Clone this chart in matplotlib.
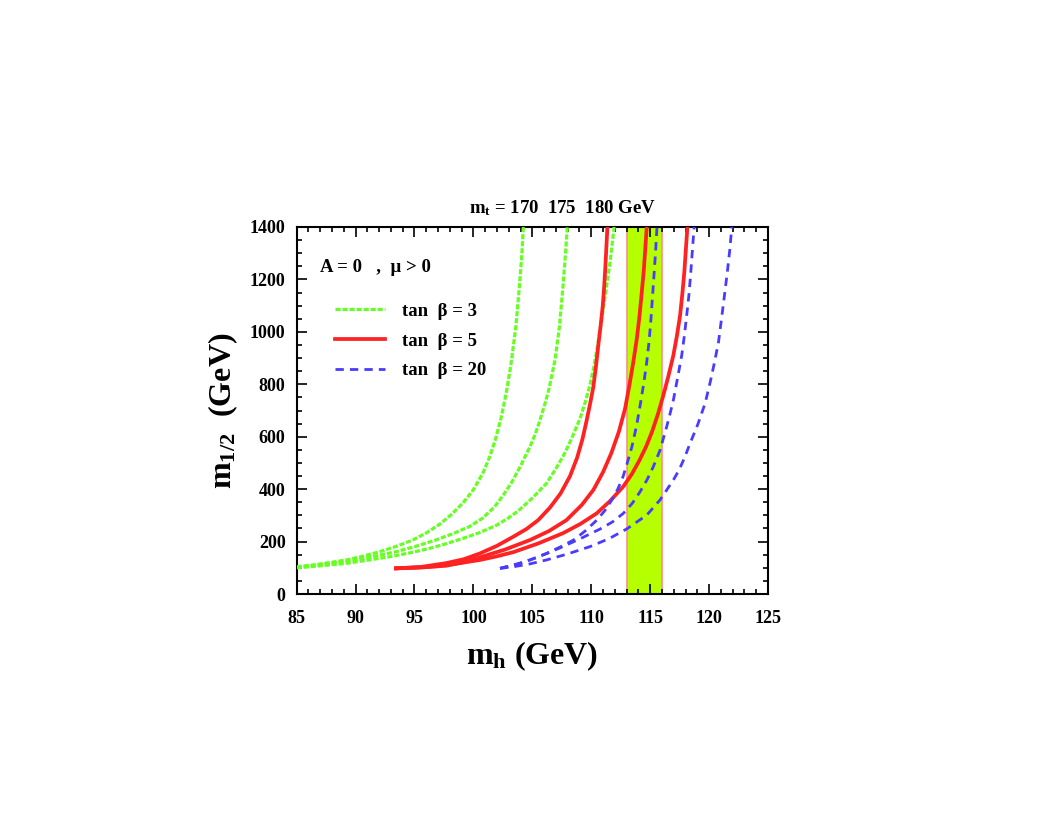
import numpy as np
import matplotlib.pyplot as plt
from matplotlib.ticker import MultipleLocator

plt.rcParams['font.family'] = ['Liberation Serif', 'DejaVu Serif']
plt.rcParams['font.weight'] = 'bold'
plt.rcParams['mathtext.fontset'] = 'custom'
plt.rcParams['mathtext.rm'] = 'Liberation Serif:bold'
plt.rcParams['mathtext.it'] = 'Liberation Serif:bold'
plt.rcParams['mathtext.bf'] = 'Liberation Serif:bold'

# tan beta = 3 (mt = 170, 175, 180 GeV)
g1_mh = [85.0, 86.4, 87.8, 89.2, 90.6, 92.0, 93.4, 94.85, 96.0, 97.1, 98.1, 99.09, 100.0, 100.79,
         101.35, 101.85, 102.35, 102.8, 103.2, 103.6, 103.9, 104.1, 104.24]
g1_m = [104, 111, 120, 130, 144, 161, 181, 206, 233, 265, 302, 346, 398, 460,
        520, 587, 672, 770, 880, 1020, 1172, 1290, 1400]
g2_mh = [85.0, 87.5, 90.0, 91.7, 93.4, 95.1, 96.8, 98.25, 99.65, 100.8, 101.8, 102.55, 103.3, 104.05,
         104.8, 105.25, 105.65, 106.05, 106.4, 106.93, 107.3, 107.6, 107.8, 107.97]
g2_m = [101, 114, 130, 145, 161, 182, 206, 230, 257, 290, 333, 378, 430, 493,
        562, 610, 664, 722, 780, 893, 1020, 1172, 1290, 1400]
g3_mh = [85.0, 87.1, 89.2, 91.0, 92.86, 94.6, 96.26, 97.7, 99.09, 100.56, 101.95, 102.9, 103.8, 105.0,
         106.2, 107.0, 107.75, 108.4, 109.05, 109.5, 109.9, 110.2, 110.47, 110.75, 111.03, 111.3,
         111.6, 111.94]
g3_m = [100, 108, 117, 129, 142, 157, 174, 192, 212, 235, 262, 288, 317, 366,
        422, 478, 537, 600, 670, 733, 800, 862, 930, 1008, 1089, 1175,
        1267, 1400]

# tan beta = 5
r1_mh = [93.43, 95.5, 97.7, 99.2, 100.56, 102.0, 103.4, 104.5, 105.5, 106.5, 107.4, 108.2, 108.8,
         109.25, 109.6, 109.9, 110.18, 110.4, 110.6, 110.8, 110.98, 111.1, 111.2, 111.37]
r1_m = [98, 103, 118, 133, 155, 184, 219, 248, 282, 330, 384, 450, 520,
        590, 660, 725, 791, 868, 949, 1025, 1101, 1175, 1250, 1400]
r2_mh = [93.43, 95.5, 97.7, 99.2, 100.56, 102.7, 104.8, 106.4, 107.9, 109.2, 110.18, 111.0, 111.7,
         112.35, 112.87, 113.25, 113.57, 113.87, 114.1, 114.45, 114.71]
r2_m = [98, 101, 108, 122, 140, 170, 206, 240, 282, 340, 397, 465, 537,
        620, 707, 800, 885, 975, 1063, 1229, 1400]
r3_mh = [93.43, 96.0, 98.3, 100.56, 102.0, 103.4, 105.5, 107.6, 109.1, 110.47, 111.6, 112.7, 113.45,
         114.1, 114.65, 115.15, 115.65, 116.12, 116.55, 116.97, 117.27, 117.54, 117.73, 117.9, 118.16]
r3_m = [98, 103, 114, 130, 144, 160, 193, 232, 268, 308, 355, 409, 458,
        511, 562, 618, 685, 758, 832, 911, 985, 1063, 1145, 1229, 1400]

# tan beta = 20
b1_mh = [102.26, 103.96, 105.1, 106.2, 107.35, 108.5, 109.5, 110.47, 111.15, 111.75, 112.25, 112.7,
         113.07, 113.45, 113.86, 114.2, 114.47, 114.71, 114.9, 115.05, 115.3, 115.45, 115.58]
b1_m = [98, 117, 135, 155, 179, 206, 241, 282, 318, 359, 400, 448,
        502, 562, 645, 733, 808, 885, 960, 1038, 1200, 1300, 1400]
b2_mh = [102.26, 103.5, 104.8, 106.2, 107.6, 109.2, 110.75, 111.8, 112.73, 113.5, 114.14, 114.75,
         115.27, 115.84, 116.4, 116.7, 116.97, 117.35, 117.68, 117.9, 118.1, 118.3, 118.45, 118.73]
b2_m = [98, 112, 130, 154, 181, 214, 248, 275, 308, 347, 390, 437,
        486, 549, 638, 690, 740, 830, 911, 985, 1063, 1145, 1229, 1400]
b3_mh = [102.26, 103.4, 104.8, 106.2, 108.0, 109.9, 111.5, 113.0, 114.71, 115.84, 116.97, 117.45,
         117.9, 118.39, 119.05, 119.66, 120.1, 120.45, 120.8, 121.2, 121.55, 121.75, 121.93]
b3_m = [98, 104, 115, 130, 153, 181, 211, 248, 301, 359, 435, 473,
        518, 575, 648, 727, 809, 882, 961, 1101, 1229, 1310, 1400]

band = [113.0, 116.0]

fig = plt.figure(figsize=(10.58, 8.17), dpi=100)
ax = fig.add_axes([0.2804, 0.2729, 0.4455, 0.4493])

ax.axvspan(band[0], band[1], facecolor='#b5ff00', edgecolor='#ff8c8c', lw=1.2, zorder=1)

green = '#66ff22'
red = '#ff2222'
blue = '#4a3cff'
for i, (xs, ys) in enumerate([(g1_mh, g1_m), (g2_mh, g2_m), (g3_mh, g3_m)]):
    ax.plot(xs, ys, color=green, lw=2.3, dashes=(1.6, 0.6),
            label='tan  β = 3' if i == 0 else None, zorder=3)
for i, (xs, ys) in enumerate([(r1_mh, r1_m), (r2_mh, r2_m), (r3_mh, r3_m)]):
    ax.plot(xs, ys, color=red, lw=2.7, solid_joinstyle='round',
            label='tan  β = 5' if i == 0 else None, zorder=3)
for i, (xs, ys) in enumerate([(b1_mh, b1_m), (b2_mh, b2_m), (b3_mh, b3_m)]):
    ax.plot(xs, ys, color=blue, lw=2.0, dashes=(3.0, 2.2),
            label='tan  β = 20' if i == 0 else None, zorder=3)

ax.set_xlim(85, 125)
ax.set_ylim(0, 1400)
ax.xaxis.set_major_locator(MultipleLocator(5))
ax.xaxis.set_minor_locator(MultipleLocator(1))
ax.yaxis.set_major_locator(MultipleLocator(200))
ax.yaxis.set_minor_locator(MultipleLocator(50))
ax.tick_params(which='both', direction='in', top=True, right=True, width=1.2)
ax.tick_params(which='major', length=7, labelsize=13)
ax.tick_params(axis='x', which='major', pad=11.5)
ax.tick_params(axis='y', which='major', pad=8)
ax.tick_params(which='minor', length=3.5)
for lab in ax.get_xticklabels() + ax.get_yticklabels():
    lab.set_fontweight('bold')
for s in ax.spines.values():
    s.set_linewidth(1.5)

ax.set_xlabel(r'm$_\mathbf{h}$ (GeV)', fontsize=23, fontweight='bold', labelpad=9)
ax.set_ylabel(r'm$_\mathbf{1/2}$  (GeV)', fontsize=23, fontweight='bold', labelpad=7)

ax.text(0.563, 1.025, r'm$_\mathbf{t}$ = 170  175  180 GeV', transform=ax.transAxes,
        ha='center', va='bottom', fontsize=13.5, fontweight='bold')
ax.text(0.05, 0.89, 'A = 0   ,  μ > 0', transform=ax.transAxes,
        ha='left', va='center', fontsize=13.5, fontweight='bold')

leg = ax.legend(loc='upper left', bbox_to_anchor=(0.045, 0.84), frameon=False,
                handlelength=2.7, handletextpad=0.9, labelspacing=0.68,
                prop={'size': 13.5, 'weight': 'bold'})

fig.savefig('out.png', dpi=100)
